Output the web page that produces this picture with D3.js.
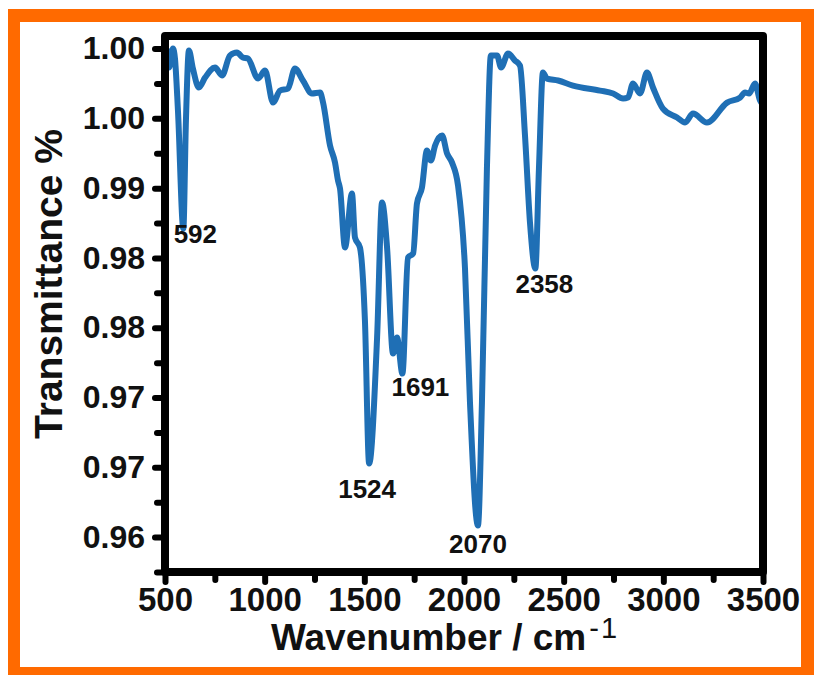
<!DOCTYPE html>
<html>
<head>
<meta charset="utf-8">
<script src="https://cdn.jsdelivr.net/npm/d3@7"></script>
<style>
  html, body { margin: 0; padding: 0; background: #fff; }
  svg text { font-family: "Liberation Sans", Arial, sans-serif; fill: #111; }
</style>
</head>
<body>
<svg class="js-ftir" width="814" height="675"></svg>
<script>
// spectrum
var wavenumber = [510, 520, 540, 550, 565, 592, 605, 620, 640, 670, 701, 751, 786, 826, 861, 891, 916,
  967, 1002, 1042, 1077, 1117, 1152, 1192, 1237, 1278, 1293, 1328, 1353, 1368, 1378, 1403, 1438, 1453,
  1478, 1503, 1524, 1564, 1589, 1614, 1644, 1664, 1691, 1719, 1745, 1764, 1789, 1814, 1834, 1855, 1890,
  1915, 1940, 1970, 2005, 2030, 2070, 2090, 2115, 2135, 2166, 2186, 2221, 2256, 2281, 2306, 2331, 2358,
  2376, 2396, 2416, 2472, 2547, 2682, 2748, 2798, 2823, 2848, 2883, 2918, 2948, 2998, 3069, 3109, 3149,
  3219, 3320, 3385, 3410, 3430, 3460, 3485, 3495];
var transmittance = [0.99986, 0.99864, 1.0000, 0.99928, 0.99556, 0.98711, 0.99484, 0.99986, 0.99857,
  0.99721, 0.99792, 0.99864, 0.99807, 0.99950, 0.99971, 0.99936, 0.99928, 0.99785, 0.99842, 0.99613,
  0.99699, 0.99713, 0.99857, 0.99771, 0.99678, 0.99685, 0.99613, 0.99305, 0.99183, 0.99054, 0.98997,
  0.98575, 0.98961, 0.98646, 0.98575, 0.98052, 0.97027, 0.97930, 0.98897, 0.98575, 0.97815, 0.97930,
  0.97672, 0.98503, 0.98532, 0.98890, 0.99004, 0.99269, 0.99198, 0.99305, 0.99377, 0.99248, 0.99183,
  0.99019, 0.98424, 0.97464, 0.96583, 0.97464, 0.99140, 0.99950, 0.99950, 0.99864, 0.99964, 0.99914,
  0.99878, 0.99377, 0.98754, 0.98424, 0.99140, 0.99828, 0.99785, 0.99771, 0.99735, 0.99699, 0.99678,
  0.99642, 0.99649, 0.99749, 0.99678, 0.99828, 0.99721, 0.99570, 0.99506, 0.99470, 0.99534, 0.99470,
  0.99613, 0.99649, 0.99685, 0.99678, 0.99749, 0.99628, 0.99606];

var peaks = [592, 1524, 1691, 2070, 2358];

var xTicks = [500, 1000, 1500, 2000, 2500, 3000, 3500];
var xMinorTicks = [750, 1250, 1750, 2250, 2750, 3250];
var yTicks = [1.000, 0.995, 0.990, 0.985, 0.980, 0.975, 0.970, 0.965];
var yTickLabels = ['1.00', '1.00', '0.99', '0.98', '0.98', '0.97', '0.97', '0.96'];
var yMinorTicks = [0.9975, 0.9925, 0.9875, 0.9825, 0.9775, 0.9725, 0.9675, 0.9625];

var xTitle = 'Wavenumber / cm';
var yTitle = 'Transmittance %';

var svg = d3.select('.js-ftir'),
    plotL = 165, plotR = 763, plotT = 36, plotB = 572;

// orange frame
svg.append('rect').attr('x', 8).attr('y', 9).attr('width', 820).attr('height', 680).attr('fill', '#ff6a00');
svg.append('rect').attr('x', 20).attr('y', 22).attr('width', 781).attr('height', 645).attr('fill', '#fff');

var x = d3.scaleLinear().domain([500, 3500]).range([plotL, plotR]);
var y = d3.scaleLinear().domain([0.9625, 1.0009]).range([plotB, plotT]);

function styleTicks(g) {
  g.select('.domain').remove();
  g.selectAll('.tick line')
    .attr('stroke', '#000')
    .attr('stroke-width', 6)
    .attr('stroke-linecap', 'round');
}

// minor ticks
svg.append('g')
    .attr('transform', 'translate(0,' + plotB + ')')
    .call(d3.axisBottom(x).tickValues(xMinorTicks).tickSize(8).tickFormat(''))
    .call(styleTicks);
svg.append('g')
    .attr('transform', 'translate(' + plotL + ',0)')
    .call(d3.axisLeft(y).tickValues(yMinorTicks).tickSize(8).tickFormat(''))
    .call(styleTicks);

// major ticks
var xAxis = svg.append('g')
    .attr('transform', 'translate(0,' + plotB + ')')
    .call(d3.axisBottom(x).tickValues(xTicks).tickSize(10).tickPadding(6).tickFormat(d3.format('d')))
    .call(styleTicks);
xAxis.selectAll('text')
    .attr('font-size', 33)
    .attr('font-weight', 'bold')
    .attr('fill', '#111');

var yAxis = svg.append('g')
    .attr('transform', 'translate(' + plotL + ',0)')
    .call(d3.axisLeft(y).tickValues(yTicks).tickSize(10).tickPadding(10)
      .tickFormat(function(d, i) { return yTickLabels[i]; }))
    .call(styleTicks);
yAxis.selectAll('text')
    .attr('font-size', 32)
    .attr('font-weight', 'bold')
    .attr('fill', '#111');

// spectrum
var line = d3.line()
    .x(function(d, i) { return x(wavenumber[i]); })
    .y(function(d) { return y(d); })
    .curve(d3.curveMonotoneX);
svg.append('path')
    .datum(transmittance)
    .attr('d', line)
    .attr('fill', 'none')
    .attr('stroke', '#1f6fb5')
    .attr('stroke-width', 6)
    .attr('stroke-linejoin', 'round')
    .attr('stroke-linecap', 'round');

// frame
svg.append('rect')
    .attr('x', plotL).attr('y', plotT)
    .attr('width', plotR - plotL).attr('height', plotB - plotT)
    .attr('fill', 'none')
    .attr('stroke', '#000')
    .attr('stroke-width', 8)
    .attr('stroke-linejoin', 'round');

// peak labels, nudged off the dips
var labelShift = [[12, 15], [-2, 34], [18, 22], [0, 27], [9, 24]];
svg.append('g').selectAll('text')
    .data(peaks)
    .enter()
    .append('text')
    .attr('x', function(d, i) { return x(d) + labelShift[i][0]; })
    .attr('y', function(d, i) { return y(transmittance[wavenumber.indexOf(d)]) + labelShift[i][1]; })
    .attr('text-anchor', 'middle')
    .attr('font-size', 26)
    .attr('font-weight', 'bold')
    .text(function(d) { return d; });

// axis titles
var xt = svg.append('text')
    .attr('x', 444)
    .attr('y', 650)
    .attr('text-anchor', 'middle')
    .attr('font-size', 37)
    .attr('font-weight', 'bold');
xt.append('tspan').text(xTitle);
xt.append('tspan').attr('dx', 3).attr('dy', -12).attr('font-size', 29).attr('font-weight', 'normal').text('-');
xt.append('tspan').attr('dx', 2).attr('font-size', 29).attr('font-weight', 'normal').text('1');

svg.append('text')
    .attr('transform', 'translate(62,284) rotate(-90)')
    .attr('text-anchor', 'middle')
    .attr('font-size', 39)
    .attr('font-weight', 'bold')
    .text(yTitle);
</script>
</body>
</html>
